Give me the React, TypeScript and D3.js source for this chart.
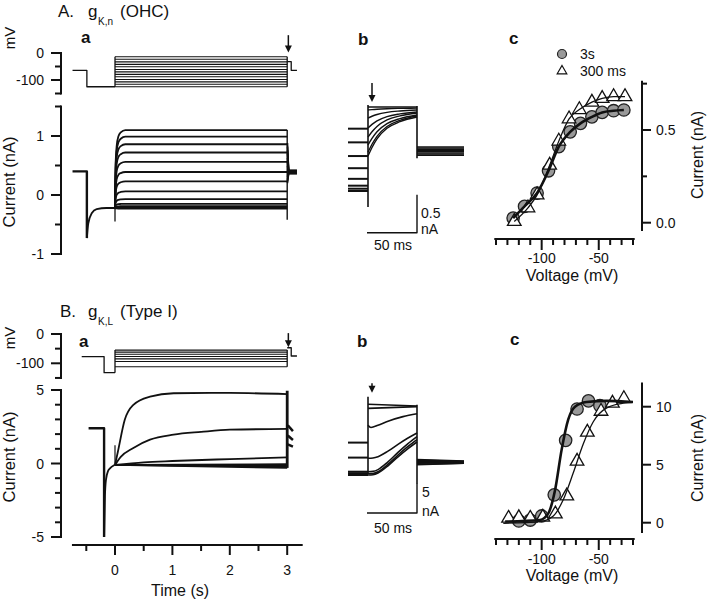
import React from "react";
import * as d3 from "d3";

const FONT = "'Liberation Sans', Arial, Helvetica, sans-serif";
const INK = "#111";
type P = [number, number];

// ---------------- Panel A a : OHC gK,n (time s, voltage mV, current nA)
const aHoldMv: P[] = [[-0.74, -64], [-0.49, -64], [-0.49, -125], [0, -125]];
const aStepMv = [-125, -116, -107, -98, -88, -79, -70, -61, -51, -42, -33, -23, -14];
const aTailMv: P[] = [[3, -32], [3.07, -32], [3.07, -64], [3.17, -64]];
const aArrowMv = [66, 2];
const aHoldNa: P[] = [[-0.74, 0.4], [-0.49, 0.4], [-0.49, -0.73]];
const aRecoveryNa: P[] = [[-0.49, -0.73], [-0.465, -0.48], [-0.406, -0.31], [-0.319, -0.24], [-0.15, -0.22], [0, -0.22]];
const aLevelsNa = [1.1, 0.99, 0.86, 0.72, 0.56, 0.39, 0.23, 0.06, -0.07, -0.15, -0.19, -0.21, -0.23];
const aRiseT = [0, 0.01, 0.03, 0.06, 0.1, 0.18, 3];
const aRiseF = [0, 0.55, 0.8, 0.92, 0.97, 1, 1];
const aBaseNa = -0.22;
const aOnSpikeNa = [-0.22, -0.45];
const aOffSpikeNa = [1.1, -0.42];
const aTailStartNa = [0.88, 0.82, 0.76, 0.7, 0.63, 0.56, 0.49, 0.42, 0.36, 0.31, 0.26, 0.23, 0.2];
const aTailEndNa = [0.42, 0.415, 0.41, 0.405, 0.4, 0.395, 0.39, 0.385, 0.38, 0.375, 0.37, 0.365, 0.36];
const aTailT = [3.005, 3.025, 3.17];

// ---------------- Panel B a : Type I gK,L
const bHoldMv: P[] = [[-0.58, -77], [-0.19, -77], [-0.19, -132], [0, -132]];
const bStepMv = [-55, -62, -69, -77, -85, -94, -112];
const bTailMv: P[] = [[3, -47], [3.07, -47], [3.07, -75], [3.17, -75]];
const bArrowMv = [3, -45];
const bHoldNa: P[] = [[-0.46, 2.4], [-0.19, 2.4], [-0.19, -5]];
const bRecoveryNa: P[] = [[-0.19, -5], [-0.175, -2.2], [-0.157, -1.1], [-0.12, -0.5], [-0.087, -0.33], [-0.03, -0.15], [0, -0.1]];
const bTrace1: P[] = [[0, -0.1], [0.05, 0.8], [0.17, 2.97], [0.32, 3.99], [0.61, 4.55], [1.02, 4.78], [2, 4.8], [3, 4.72]];
const bTrace2: P[] = [[0, -0.1], [0.1, 0.45], [0.32, 1.06], [0.61, 1.62], [1.02, 1.96], [1.5, 2.15], [2, 2.3], [3, 2.35]];
const bTrace3: P[] = [[0, -0.1], [0.5, 0.08], [1, 0.17], [2, 0.3], [3, 0.42]];
const bFlatEndNa = [-0.05, -0.15, -0.22, -0.3];
const bOnSpikeNa = [-0.1, 1.24];
const bOffSpikeNa = [4.95, -0.3];
const bTailStartNa = [2.6, 1.9, 1.3];
const bTailEndNa = [2.2, 1.6, 1.15];
const bTailT = [3.01, 3.1];

const timeMinor = [-0.5, 0.5, 1.5, 2.5];
const timeMajor = [0, 1, 2, 3];

// ---------------- Panel A b (ms, nA relative)
const abPre = [0.82, 0.64, 0.46, 0.3, 0.16, 0.07, 0.03, 0];
const abStart = [1.105, 1.066, 0.96, 0.83, 0.71, 0.605, 0.51, 0.46];
const abEnd = [1.105, 1.09, 1.066, 1.04, 1.026, 1.0, 0.987, 0.974];
const abTail = [0.58, 0.565, 0.55, 0.535, 0.52, 0.5, 0.485, 0.47];
const abShapeT = [0, 4, 9, 19, 32, 49];
const abShapeF = [0, 0.22, 0.44, 0.71, 0.88, 1];
const abStepSpike = [-0.21, 1.13];
const abEndSpike = [1.12, 0.43];
const abBar = { t: [-1, 49], na: [-0.05, -0.55] };
const abArrow = { t: 4, na: [1.42, 1.17] };

// ---------------- Panel B b
const bbPre = [5.4, 2.9, 0.55, 0.3, 0.15, 0.05, 0];
const bbStart = [11.8, 11.1, 8.3, 2.8, 0.55, 0.2, 0.0];
const bbEnd = [11.5, 11.4, 10.2, 7.0, 6.4, 5.9, 5.5];
const bbShapeKind = ["lin", "lin", "dip", "sig", "sig", "sig", "sig"];
const bbShapes: Record<string, { t: number[]; f: number[] }> = {
  lin: { t: [0, 49], f: [0, 1] },
  dip: { t: [0, 3, 10, 20, 35, 49], f: [0, -0.2, 0, 0.35, 0.75, 1] },
  sig: { t: [0, 5, 10, 20, 30, 40, 49], f: [0, 0.01, 0.06, 0.28, 0.55, 0.8, 1] },
};
const bbTail = [2.6, 2.45, 2.3, 2.1, 1.95, 1.8, 1.7];
const bbStepSpike = [0.33, 13.05];
const bbEndSpike = [11.7, -1.4];
const bbBar = { t: [-1, 49], na: [-1.33, -6.33] };
const bbArrow = { t: 4, na: [15.3, 13.7] };

// ---------------- Panel c : I-V
const ivVoltA3s = [-125, -115, -104, -94, -85, -75, -66, -56, -47, -37, -28];
const ivA3s = [0.025, 0.088, 0.16, 0.28, 0.41, 0.49, 0.536, 0.571, 0.595, 0.604, 0.608];
const ivVoltA300 = [-124, -112, -104, -93, -85, -76, -67, -56, -47, -37, -27];
const ivA300 = [0.007, 0.08, 0.15, 0.31, 0.44, 0.56, 0.61, 0.65, 0.67, 0.68, 0.68];
const ivVoltB3s = [-120, -110, -100, -89, -79, -69, -59, -49];
const ivB3s = [0.15, 0.23, 0.58, 2.4, 7.1, 9.8, 10.5, 10.1];
const ivVoltB300 = [-129, -120, -110, -99, -88, -78, -69, -60, -48, -38, -28];
const ivB300 = [0.38, 0.43, 0.38, 0.47, 0.75, 2.3, 5.3, 7.8, 9.6, 10.3, 10.7];
const fitB3s: P[] = [[-132, 0.1], [-101.5, 0.23], [-94.2, 0.8], [-88.3, 2.8], [-82.5, 6.3], [-76.7, 8.9], [-70.8, 10], [-60.6, 10.4], [-43, 10.5], [-20, 10.4]];
const fitB300: P[] = [[-133.6, -0.05], [-101.5, 0.1], [-89.8, 0.58], [-81, 2], [-72.3, 4.3], [-63.5, 6.8], [-54.8, 8.7], [-43, 9.9], [-28.5, 10.3], [-20, 10.4]];
const ivXTicks = [-140, -130, -120, -110, -100, -90, -80, -70, -60, -50, -40, -30, -20];
const ivXMajor = [-100, -50];

type Scale = d3.ScaleLinear<number, number>;

function mkPath(pts: P[], xs: Scale, ys: Scale, curve: d3.CurveFactory = d3.curveLinear) {
  return d3.line<P>().x((d) => xs(d[0])).y((d) => ys(d[1])).curve(curve)(pts) ?? "";
}

function Arrow({ x, y1, y2 }: { x: number; y1: number; y2: number }) {
  const h = 7;
  return (
    <g>
      <line x1={x} x2={x} y1={y1} y2={y2 - h + 1} stroke={INK} strokeWidth={1.5} />
      <path d={`M${x - 3.5},${y2 - h}L${x + 3.5},${y2 - h}L${x},${y2}Z`} fill={INK} />
    </g>
  );
}

function LeftAxis({ x, scale, extent, majors, minors, labels }: { x: number; scale: Scale; extent: number[]; majors: number[]; minors: number[]; labels: [number, string][] }) {
  return (
    <g>
      <line x1={x} x2={x} y1={scale(extent[0])} y2={scale(extent[1])} stroke={INK} strokeWidth={2} strokeLinecap="square" />
      {majors.map((v) => (
        <line key={"M" + v} x1={x - 10} x2={x} y1={scale(v)} y2={scale(v)} stroke={INK} strokeWidth={2} />
      ))}
      {minors.map((v) => (
        <line key={"m" + v} x1={x - 6} x2={x} y1={scale(v)} y2={scale(v)} stroke={INK} strokeWidth={2} />
      ))}
      {labels.map(([v, t]) => (
        <text key={t} x={x - 17} y={scale(v) + 5} textAnchor="end" fontSize={14}>
          {t}
        </text>
      ))}
    </g>
  );
}

function RightAxis({ x, scale, extent, majors, minors, labels }: { x: number; scale: Scale; extent: number[]; majors: number[]; minors: number[]; labels: [number, string][] }) {
  return (
    <g>
      <line x1={x} x2={x} y1={scale(extent[0])} y2={scale(extent[1])} stroke={INK} strokeWidth={2} strokeLinecap="square" />
      {majors.map((v) => (
        <line key={"M" + v} x1={x} x2={x + 9} y1={scale(v)} y2={scale(v)} stroke={INK} strokeWidth={2} />
      ))}
      {minors.map((v) => (
        <line key={"m" + v} x1={x} x2={x + 5} y1={scale(v)} y2={scale(v)} stroke={INK} strokeWidth={2} />
      ))}
      {labels.map(([v, t]) => (
        <text key={t} x={x + 14} y={scale(v) + 5} textAnchor="start" fontSize={14}>
          {t}
        </text>
      ))}
    </g>
  );
}

function BottomAxis({ y, scale, extent, majors, minors, labels, majorLen = 10, minorLen = 6, labelDy = 25 }: { y: number; scale: Scale; extent: number[]; majors: number[]; minors: number[]; labels: [number, string][]; majorLen?: number; minorLen?: number; labelDy?: number }) {
  return (
    <g>
      <line x1={scale(extent[0])} x2={scale(extent[1])} y1={y} y2={y} stroke={INK} strokeWidth={2} />
      {majors.map((v) => (
        <line key={"M" + v} x1={scale(v)} x2={scale(v)} y1={y} y2={y + majorLen} stroke={INK} strokeWidth={2} />
      ))}
      {minors.map((v) => (
        <line key={"m" + v} x1={scale(v)} x2={scale(v)} y1={y} y2={y + minorLen} stroke={INK} strokeWidth={2} />
      ))}
      {labels.map(([v, t]) => (
        <text key={t} x={scale(v)} y={y + labelDy} textAnchor="middle" fontSize={14}>
          {t}
        </text>
      ))}
    </g>
  );
}

function VLabel({ x, y, text, size = 16 }: { x: number; y: number; text: string; size?: number }) {
  return (
    <text transform={`translate(${x},${y}) rotate(-90)`} textAnchor="middle" fontSize={size}>
      {text}
    </text>
  );
}

export default function App() {
  // scales
  const xT = d3.scaleLinear().domain([0, 3]).range([115, 287.2]);
  const vA = d3.scaleLinear().domain([0, -100]).range([53, 80]);
  const iA = d3.scaleLinear().domain([0, 1]).range([195, 136]);
  const vB = d3.scaleLinear().domain([0, -100]).range([334, 363.3]);
  const iB = d3.scaleLinear().domain([0, 5]).range([463.5, 390]);
  const xb = d3.scaleLinear().domain([0, 49]).range([368, 417]);
  const yAb = d3.scaleLinear().domain([0, 1]).range([191, 115]);
  const yBb = d3.scaleLinear().domain([0, 5]).range([475, 445]);
  const xIV = d3.scaleLinear().domain([-140, -20]).range([496, 633]);
  const yIVA = d3.scaleLinear().domain([0, 0.5]).range([222.7, 130]);
  const yIVB = d3.scaleLinear().domain([0, 10]).range([522.7, 406.7]);

  const trace = (pts: P[], xs: Scale, ys: Scale, w: number, curve: d3.CurveFactory = d3.curveLinear, key?: string) => (
    <path key={key} d={mkPath(pts, xs, ys, curve)} fill="none" stroke={INK} strokeWidth={w} strokeLinejoin="round" />
  );

  // ---- A a
  const aStepLines = aStepMv.map((v, i) => trace([[0, v], [3, v]], xT, vA, 1.1, d3.curveLinear, "as" + i));
  const aTraces = aLevelsNa.map((L, i) =>
    trace(aRiseT.map((t, k) => [t, aBaseNa + (L - aBaseNa) * aRiseF[k]] as P), xT, iA, 1.8, d3.curveMonotoneX, "at" + i)
  );
  const aTails = aTailStartNa.map((s, i) =>
    trace([[aTailT[0], s], [aTailT[1], aTailEndNa[i]], [aTailT[2], aTailEndNa[i]]], xT, iA, 1.6, d3.curveLinear, "atl" + i)
  );

  // ---- B a
  const bStepLines = bStepMv.map((v, i) => trace([[0, v], [3, v]], xT, vB, 1.1, d3.curveLinear, "bs" + i));
  const bFlat = bFlatEndNa.map((e, i) => trace([[0, -0.1], [3, e]], xT, iB, 1.8, d3.curveLinear, "bf" + i));
  const bTails = bTailStartNa.map((s, i) =>
    trace([[bTailT[0], s], [bTailT[1], bTailEndNa[i]]], xT, iB, 2.5, d3.curveLinear, "btl" + i)
  );

  // ---- A b
  const abPreLines = abPre.map((v, i) => trace([[-20, v], [0, v]], xb, yAb, 2, d3.curveLinear, "abp" + i));
  const abTraces = abStart.map((s, i) =>
    trace(abShapeT.map((t, k) => [t, s + (abEnd[i] - s) * abShapeF[k]] as P), xb, yAb, 1.4, d3.curveMonotoneX, "abt" + i)
  );
  const abTails = abTail.map((v, i) => trace([[49, v], [96, v]], xb, yAb, 1.4, d3.curveLinear, "abtl" + i));

  // ---- B b
  const bbPreLines = bbPre.map((v, i) => trace([[-20, v], [0, v]], xb, yBb, 2, d3.curveLinear, "bbp" + i));
  const bbTraces = bbStart.map((s, i) => {
    const sh = bbShapes[bbShapeKind[i]];
    return trace(sh.t.map((t, k) => [t, s + (bbEnd[i] - s) * sh.f[k]] as P), xb, yBb, 1.6, d3.curveMonotoneX, "bbt" + i);
  });
  const bbTails = bbTail.map((v, i) => trace([[49, v], [96, v + (i - 3) * 0.08]], xb, yBb, 1.4, d3.curveLinear, "bbtl" + i));

  const circ = (vs: number[], is: number[], ys: Scale, key: string) =>
    vs.map((v, i) => (
      <circle key={key + i} cx={xIV(v)} cy={ys(is[i])} r={6.2} fill="#999" stroke="#222" strokeWidth={1.3} />
    ));
  const tri = d3.symbol(d3.symbolTriangle, 80)() ?? "";
  const triSmall = d3.symbol(d3.symbolTriangle, 40)() ?? "";
  const tris = (vs: number[], is: number[], ys: Scale, key: string) =>
    vs.map((v, i) => (
      <path key={key + i} d={tri} transform={`translate(${xIV(v)},${ys(is[i])})`} fill="#fff" stroke="#111" strokeWidth={1.3} />
    ));

  return (
    <svg width={707} height={600} viewBox="0 0 707 600" style={{ position: "absolute", left: 0, top: 0, background: "#fff" }} fontFamily={FONT} fill={INK}>
      <rect x={0} y={0} width={707} height={600} fill="#fff" />

      {/* ===== Titles ===== */}
      <text x={58} y={17} fontSize={17}>A.</text>
      <text x={88} y={17} fontSize={17}>g</text>
      <text x={98} y={25} fontSize={10}>K,n</text>
      <text x={120} y={17} fontSize={17}>(OHC)</text>
      <text x={60} y={317} fontSize={17}>B.</text>
      <text x={88} y={317} fontSize={17}>g</text>
      <text x={98} y={325} fontSize={10}>K,L</text>
      <text x={120} y={317} fontSize={17}>(Type I)</text>

      <text x={81} y={43} fontSize={17} fontWeight="bold">a</text>
      <text x={358} y={45} fontSize={17} fontWeight="bold">b</text>
      <text x={509} y={44} fontSize={17} fontWeight="bold">c</text>
      <text x={79} y={347} fontSize={17} fontWeight="bold">a</text>
      <text x={357} y={347} fontSize={17} fontWeight="bold">b</text>
      <text x={510} y={345} fontSize={17} fontWeight="bold">c</text>

      {/* ===== A a voltage ===== */}
      <VLabel x={15} y={38} text="mV" size={15} />
      <LeftAxis x={61} scale={vA} extent={[0, -150]} majors={[0, -100]} minors={[-50, -150]} labels={[[0, "0"], [-100, "-100"]]} />
      {trace(aHoldMv, xT, vA, 1.3)}
      {aStepLines}
      {trace([[0, -125], [0, aStepMv[aStepMv.length - 1]]], xT, vA, 1.3)}
      {trace([[3, -125], [3, aStepMv[aStepMv.length - 1]]], xT, vA, 1.3)}
      {trace(aTailMv, xT, vA, 1.3)}
      <Arrow x={xT(3.02)} y1={vA(aArrowMv[0])} y2={vA(aArrowMv[1])} />

      {/* ===== A a current ===== */}
      <VLabel x={15} y={182} text="Current (nA)" size={16.5} />
      <LeftAxis x={61} scale={iA} extent={[-1, 1.5]} majors={[-1, 0, 1]} minors={[-0.5, 0.5, 1.5]} labels={[[1, "1"], [0, "0"], [-1, "-1"]]} />
      {trace(aHoldNa, xT, iA, 2.4)}
      {trace(aRecoveryNa, xT, iA, 1.8, d3.curveMonotoneX)}
      {trace([[0, aOnSpikeNa[0]], [0, aOnSpikeNa[1]]], xT, iA, 1.3)}
      {aTraces}
      {trace([[3, aOffSpikeNa[0]], [3, aOffSpikeNa[1]]], xT, iA, 1.4)}
      {aTails}

      {/* ===== B a voltage ===== */}
      <VLabel x={15} y={338} text="mV" size={15} />
      <LeftAxis x={61} scale={vB} extent={[0, -150]} majors={[0, -100]} minors={[-50, -150]} labels={[[0, "0"], [-100, "-100"]]} />
      {trace(bHoldMv, xT, vB, 1.3)}
      {bStepLines}
      {trace([[0, -132], [0, bStepMv[0]]], xT, vB, 1.3)}
      {trace([[3, bStepMv[bStepMv.length - 1]], [3, bStepMv[0]]], xT, vB, 1.3)}
      {trace(bTailMv, xT, vB, 1.3)}
      <Arrow x={xT(3.02)} y1={vB(bArrowMv[0])} y2={vB(bArrowMv[1])} />

      {/* ===== B a current ===== */}
      <VLabel x={15} y={457} text="Current (nA)" size={16.5} />
      <LeftAxis x={61} scale={iB} extent={[-5, 5]} majors={[-5, 0, 5]} minors={[-4, -3, -2, -1, 1, 2, 3, 4]} labels={[[5, "5"], [0, "0"], [-5, "-5"]]} />
      {trace(bHoldNa, xT, iB, 2.4)}
      {trace(bRecoveryNa, xT, iB, 1.8, d3.curveMonotoneX)}
      {trace([[0, bOnSpikeNa[0]], [0, bOnSpikeNa[1]]], xT, iB, 1.2)}
      {bFlat}
      {trace(bTrace3, xT, iB, 1.8, d3.curveMonotoneX)}
      {trace(bTrace2, xT, iB, 1.8, d3.curveMonotoneX)}
      {trace(bTrace1, xT, iB, 1.8, d3.curveMonotoneX)}
      {trace([[3, bOffSpikeNa[0]], [3, bOffSpikeNa[1]]], xT, iB, 2.8)}
      {bTails}
      <BottomAxis y={545} scale={xT} extent={[-0.75, 3.27]} majors={timeMajor} minors={timeMinor} labels={timeMajor.map((v) => [v, String(v)] as [number, string])} labelDy={30} />
      <text x={180} y={596} textAnchor="middle" fontSize={16}>Time (s)</text>

      {/* ===== A b ===== */}
      {abPreLines}
      {trace([[0, abStepSpike[0]], [0, abStepSpike[1]]], xb, yAb, 1.6)}
      {abTraces}
      {trace([[49, abEndSpike[0]], [49, abEndSpike[1]]], xb, yAb, 1.6)}
      {abTails}
      {trace([[abBar.t[1], abBar.na[0]], [abBar.t[1], abBar.na[1]], [abBar.t[0], abBar.na[1]]], xb, yAb, 1.4)}
      <Arrow x={xb(abArrow.t)} y1={yAb(abArrow.na[0])} y2={yAb(abArrow.na[1])} />
      <text x={421} y={218} fontSize={14}>0.5</text>
      <text x={421} y={234} fontSize={14}>nA</text>
      <text x={393} y={250} fontSize={14} textAnchor="middle">50 ms</text>

      {/* ===== B b ===== */}
      {bbPreLines}
      {trace([[0, bbStepSpike[0]], [0, bbStepSpike[1]]], xb, yBb, 1.6)}
      {bbTraces}
      {trace([[49, bbEndSpike[0]], [49, bbEndSpike[1]]], xb, yBb, 1.6)}
      {bbTails}
      {trace([[bbBar.t[1], bbBar.na[0]], [bbBar.t[1], bbBar.na[1]], [bbBar.t[0], bbBar.na[1]]], xb, yBb, 1.4)}
      <Arrow x={xb(bbArrow.t)} y1={yBb(bbArrow.na[0])} y2={yBb(bbArrow.na[1])} />
      <text x={422} y={497} fontSize={14}>5</text>
      <text x={422} y={516} fontSize={14}>nA</text>
      <text x={393} y={533} fontSize={14} textAnchor="middle">50 ms</text>

      {/* ===== A c ===== */}
      <circle cx={562} cy={54} r={4.5} fill="#999" stroke="#222" strokeWidth={1.2} />
      <text x={580} y={59} fontSize={14}>3s</text>
      <path d={triSmall} transform="translate(562,71)" fill="#fff" stroke="#111" strokeWidth={1.2} />
      <text x={580} y={76} fontSize={14}>300 ms</text>
      <RightAxis x={642} scale={yIVA} extent={[0.76, -0.04]} majors={[0, 0.5]} minors={[0.25, 0.75]} labels={[[0.5, "0.5"], [0, "0.0"]]} />
      <BottomAxis y={239} scale={xIV} extent={[-141.5, -18.5]} majors={ivXMajor} minors={ivXTicks.filter((v) => !ivXMajor.includes(v))} labels={[[-100, "-100"], [-50, "-50"]]} majorLen={11} minorLen={6} labelDy={24} />
      <text x={572} y={281} textAnchor="middle" fontSize={16}>Voltage (mV)</text>
      <VLabel x={703} y={155} text="Current (nA)" size={16} />
      {circ(ivVoltA3s, ivA3s, yIVA, "ca")}
      {tris(ivVoltA300, ivA300, yIVA, "ta")}
      {trace(ivVoltA300.map((v, i) => [v, ivA300[i]] as P), xIV, yIVA, 1.3, d3.curveMonotoneX)}
      {trace(ivVoltA3s.map((v, i) => [v, ivA3s[i]] as P), xIV, yIVA, 2.6, d3.curveMonotoneX)}

      {/* ===== B c ===== */}
      <RightAxis x={642} scale={yIVB} extent={[12, -0.8]} majors={[0, 5, 10]} minors={[]} labels={[[10, "10"], [5, "5"], [0, "0"]]} />
      <BottomAxis y={539} scale={xIV} extent={[-141.5, -18.5]} majors={ivXMajor} minors={ivXTicks.filter((v) => !ivXMajor.includes(v))} labels={[[-100, "-100"], [-50, "-50"]]} majorLen={11} minorLen={6} labelDy={25} />
      <text x={572} y={581} textAnchor="middle" fontSize={16}>Voltage (mV)</text>
      <VLabel x={703} y={458} text="Current (nA)" size={16} />
      {circ(ivVoltB3s, ivB3s, yIVB, "cb")}
      {tris(ivVoltB300, ivB300, yIVB, "tb")}
      {trace(fitB300, xIV, yIVB, 1.3, d3.curveMonotoneX)}
      {trace(fitB3s, xIV, yIVB, 2.6, d3.curveMonotoneX)}
    </svg>
  );
}
